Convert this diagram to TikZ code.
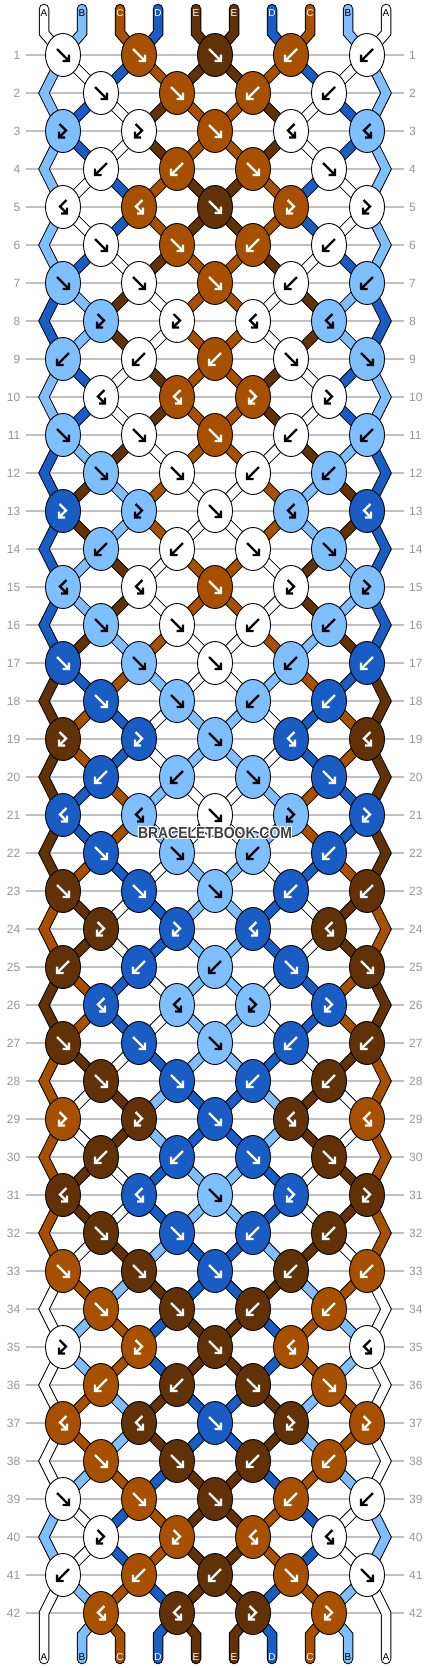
\documentclass[tikz,border=0pt]{standalone}
\usepackage{fontspec}
\setmainfont{Liberation Sans}
\usetikzlibrary{shapes.geometric}
\pgfdeclarelayer{grid}
\pgfdeclarelayer{segs}
\pgfsetlayers{grid,segs,main}
\definecolor{colA}{RGB}{255,255,255}
\definecolor{colB}{RGB}{128,191,255}
\definecolor{colC}{RGB}{166,80,0}
\definecolor{colD}{RGB}{24,92,196}
\definecolor{colE}{RGB}{97,50,8}
\definecolor{labA}{RGB}{0,0,0}
\definecolor{labB}{RGB}{0,0,0}
\definecolor{labC}{RGB}{255,255,255}
\definecolor{labD}{RGB}{255,255,255}
\definecolor{labE}{RGB}{255,255,255}
\definecolor{gridgray}{RGB}{192,192,192}
\definecolor{numgray}{RGB}{150,150,150}
\definecolor{wmgray}{RGB}{64,64,64}

\newcommand\rowtypes[2]{\expandafter\def\csname rt#1\endcsname{#2}}
\rowtypes{1}{F,F,F,B,B}
\rowtypes{2}{F,F,B,B}
\rowtypes{3}{FB,FB,F,BF,BF}
\rowtypes{4}{B,B,F,F}
\rowtypes{5}{BF,BF,F,FB,FB}
\rowtypes{6}{F,F,B,B}
\rowtypes{7}{F,F,F,B,B}
\rowtypes{8}{FB,FB,BF,BF}
\rowtypes{9}{B,B,B,F,F}
\rowtypes{10}{BF,BF,FB,FB}
\rowtypes{11}{F,F,F,B,B}
\rowtypes{12}{F,F,B,B}
\rowtypes{13}{FB,FB,F,BF,BF}
\rowtypes{14}{B,B,F,F}
\rowtypes{15}{BF,BF,F,FB,FB}
\rowtypes{16}{F,F,B,B}
\rowtypes{17}{F,F,F,B,B}
\rowtypes{18}{F,F,B,B}
\rowtypes{19}{FB,FB,F,BF,BF}
\rowtypes{20}{B,B,F,F}
\rowtypes{21}{BF,BF,F,FB,FB}
\rowtypes{22}{F,F,B,B}
\rowtypes{23}{F,F,F,B,B}
\rowtypes{24}{FB,FB,BF,BF}
\rowtypes{25}{B,B,B,F,F}
\rowtypes{26}{BF,BF,FB,FB}
\rowtypes{27}{F,F,F,B,B}
\rowtypes{28}{F,F,B,B}
\rowtypes{29}{FB,FB,F,BF,BF}
\rowtypes{30}{B,B,F,F}
\rowtypes{31}{BF,BF,F,FB,FB}
\rowtypes{32}{F,F,B,B}
\rowtypes{33}{F,F,F,B,B}
\rowtypes{34}{F,F,B,B}
\rowtypes{35}{FB,FB,F,BF,BF}
\rowtypes{36}{B,B,F,F}
\rowtypes{37}{BF,BF,F,FB,FB}
\rowtypes{38}{F,F,B,B}
\rowtypes{39}{F,F,F,B,B}
\rowtypes{40}{FB,FB,BF,BF}
\rowtypes{41}{B,B,B,F,F}
\rowtypes{42}{BF,BF,FB,FB}

\newcommand\setP[3]{%
  \ifodd#3\relax
    \ifodd#2\relax \edef#1{\the\numexpr25+38*#2\relax}%
    \else \edef#1{\the\numexpr25+38*(#2-1)\relax}\fi
  \else
    \ifnum#2=1\relax \def#1{44}%
    \else\ifnum#2=10\relax \def#1{386}%
    \else\ifodd#2\relax \edef#1{\the\numexpr25+38*(#2-1)\relax}%
    \else \edef#1{\the\numexpr25+38*#2\relax}\fi\fi\fi
  \fi}
\newcommand\swapst{\expandafter\xdef\csname st\ki\endcsname{\kb}\expandafter\xdef\csname st\kj\endcsname{\ka}}
\newcommand\doF{\let\kc\ka\swapst}
\newcommand\doB{\let\kc\kb\swapst}
\newcommand\doFB{\let\kc\ka}
\newcommand\doBF{\let\kc\kb}
\newcommand\arrF[2]{\draw[arrst,draw=#2,shift={(#1.center)}] (-6,-6) -- (5,5) (6,-0.5) -- (6,6) -- (-0.5,6);}
\newcommand\arrB[2]{\draw[arrst,draw=#2,shift={(#1.center)}] (6,-6) -- (-5,5) (-6,-0.5) -- (-6,6) -- (0.5,6);}
\newcommand\arrFB[2]{\draw[arrst,draw=#2,shift={(#1.center)}] (-3.5,-7) -- (3,-0.5) -- (-3.5,6) (-4,0.5) -- (-4,6.5) -- (2,6.5);}
\newcommand\arrBF[2]{\draw[arrst,draw=#2,shift={(#1.center)}] (3.5,-7) -- (-3,-0.5) -- (3.5,6) (4,0.5) -- (4,6.5) -- (-2,6.5);}

\begin{document}
\begin{tikzpicture}[x=1pt,y=-1pt,
  segout/.style={draw=black,line width=10.5pt,line join=miter,line cap=round},
  segin/.style={line width=8.5pt,line join=miter,line cap=round},
  knot/.style={ellipse,draw=black,line width=0.9pt,minimum width=35pt,minimum height=43pt,inner sep=0pt},
  arrst/.style={line width=2.3pt,line join=miter,line cap=butt},
  gridline/.style={draw=gridgray,line width=1.3pt},
  rownum/.style={text=numgray,font=\fontsize{12}{12}\selectfont,inner sep=0pt},
  toplab/.style={font=\fontsize{10}{10}\selectfont,inner sep=0pt},
  wm/.style={font=\bfseries\fontsize{16}{16}\selectfont,inner sep=0pt}]
\useasboundingbox (0,0) rectangle (430,1668);
\begin{pgfonlayer}{grid}
\fill[white] (0,0) rectangle (430,1668);
\end{pgfonlayer}
\foreach \kp/\kl in {1/A,2/B,3/C,4/D,5/E,6/E,7/D,8/C,9/B,10/A}{\expandafter\xdef\csname st\kp\endcsname{\kl}}
\foreach \kr in {1,...,42}{
  \pgfmathtruncatemacro\yy{17+38*\kr}
  \pgfmathtruncatemacro\krp{\kr-1}
  \pgfmathtruncatemacro\krpp{\kr-2}
  \begin{pgfonlayer}{grid}
    \draw[gridline] (26,\yy) -- (404,\yy);
  \end{pgfonlayer}
  \node[rownum,anchor=east] (ln\kr) at (20.5,\yy) {\kr};
  \node[rownum,anchor=west] (rn\kr) at (409,\yy) {\kr};
  \foreach \kp in {1,...,10}{\setP\xx{\kp}{\kr}\coordinate (q\kr-\kp) at (\xx,\yy);}
  \begin{pgfonlayer}{segs}
  \ifnum\kr=1\relax
    \foreach \kp in {1,...,10}{
      \pgfmathtruncatemacro\xx{6+38*\kp}
      \edef\kc{\csname st\kp\endcsname}
      \coordinate (ta\kp) at (\xx,9);
      \coordinate (tb\kp) at (\xx,33);
      \draw[segout] (ta\kp) -- (tb\kp) -- (q1-\kp);
      \draw[segin,draw=col\kc] (ta\kp) -- (tb\kp) -- (q1-\kp);
      \node[toplab,text=lab\kc] (tl\kp) at (\xx,13) {\kc};
    }
  \else
    \foreach \kp in {2,...,9}{
      \edef\kc{\csname st\kp\endcsname}
      \draw[segout] (q\krp-\kp) -- (q\kr-\kp);
      \draw[segin,draw=col\kc] (q\krp-\kp) -- (q\kr-\kp);
    }
    \ifodd\kr\relax
      \foreach \kp in {1,10}{
        \edef\kc{\csname st\kp\endcsname}
        \draw[segout] (q\krpp-\kp) -- (q\krp-\kp) -- (q\kr-\kp);
        \draw[segin,draw=col\kc] (q\krpp-\kp) -- (q\krp-\kp) -- (q\kr-\kp);
      }
    \fi
  \fi
  \end{pgfonlayer}
  \edef\kty{\csname rt\kr\endcsname}
  \foreach \kt [count=\kk] in \kty {
    \ifodd\kr\relax \pgfmathtruncatemacro\ki{2*\kk-1}\else\pgfmathtruncatemacro\ki{2*\kk}\fi
    \pgfmathtruncatemacro\kj{\ki+1}
    \edef\ka{\csname st\ki\endcsname}
    \edef\kb{\csname st\kj\endcsname}
    \csname do\kt\endcsname
    \node[knot,fill=col\kc] (k\kr-\kk) at (q\kr-\ki) {};
    \csname arr\kt\endcsname{k\kr-\kk}{lab\kc}
  }
}
\begin{pgfonlayer}{segs}
\foreach \kp in {1,...,10}{
  \pgfmathtruncatemacro\xx{6+38*\kp}
  \edef\kc{\csname st\kp\endcsname}
  \coordinate (bb\kp) at (\xx,1635);
  \coordinate (be\kp) at (\xx,1659);
  \ifnum\kp=1\relax
    \draw[segout] (q41-\kp) -- (q42-\kp) -- (be\kp);
    \draw[segin,draw=col\kc] (q41-\kp) -- (q42-\kp) -- (be\kp);
  \else\ifnum\kp=10\relax
    \draw[segout] (q41-\kp) -- (q42-\kp) -- (be\kp);
    \draw[segin,draw=col\kc] (q41-\kp) -- (q42-\kp) -- (be\kp);
  \else
    \draw[segout] (q42-\kp) -- (bb\kp) -- (be\kp);
    \draw[segin,draw=col\kc] (q42-\kp) -- (bb\kp) -- (be\kp);
  \fi\fi
  \node[toplab,text=lab\kc] (bl\kp) at (\xx,1657) {\kc};
}
\end{pgfonlayer}
\foreach \dx/\dy [count=\hn] in {-1/-1,-1/0,-1/1,0/-1,0/1,1/-1,1/0,1/1}{
  \node[wm,text=white] (wh\hn) at (215+\dx,833+\dy) {\scalebox{0.87}[1]{BRACELETBOOK.COM}};
}
\node[wm,text=wmgray] (wm) at (215,833) {\scalebox{0.87}[1]{BRACELETBOOK.COM}};
\end{tikzpicture}
\end{document}
